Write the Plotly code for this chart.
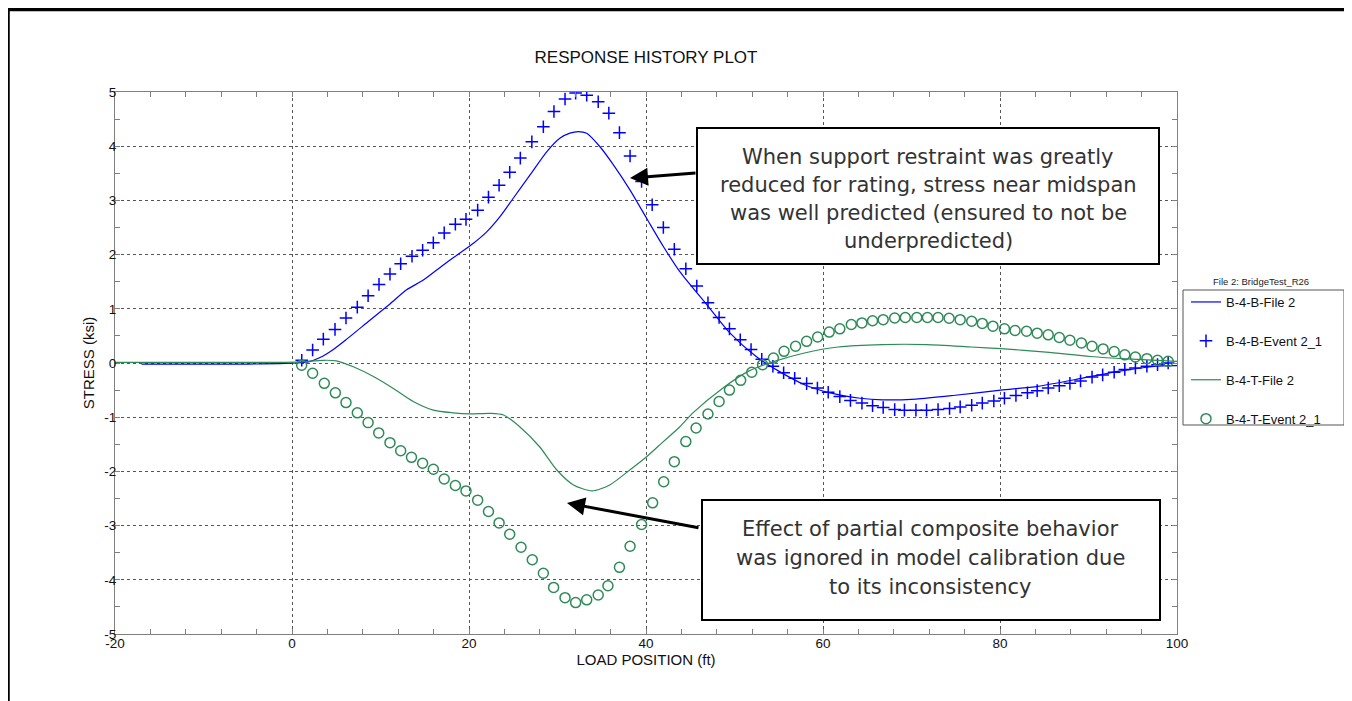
import plotly.graph_objects as go

# ---------------- data ----------------
b_event_x = [1.1, 2.33, 3.54, 4.86, 6.1, 7.38, 8.6, 9.83, 11.07, 12.28,
             13.56, 14.76, 15.97, 17.2, 18.46, 19.66, 20.98, 22.2, 23.4, 24.6,
             25.8, 27.1, 28.4, 29.6, 30.85, 32.05, 33.3, 34.6, 35.8, 37.0,
             38.2, 39.5, 40.7, 41.96, 43.2, 44.5, 45.74, 47.0, 48.26, 49.43,
             50.65, 51.87, 53.08, 54.34, 55.55, 56.8, 58.15, 59.37, 60.59, 61.9,
             63.1, 64.4, 65.6, 66.8, 68.1, 69.2, 70.5, 71.7, 73.0, 74.3,
             75.5, 76.8, 78.0, 79.3, 80.5, 81.8, 83.1, 84.2, 85.45, 86.7,
             87.9, 89.1, 90.4, 91.6, 92.9, 94.1, 95.3, 96.6, 97.8, 99.0]
b_event_y = [0.05, 0.24, 0.44, 0.62, 0.83, 1.03, 1.24, 1.45, 1.64, 1.83,
             1.97, 2.08, 2.22, 2.40, 2.56, 2.65, 2.82, 3.06, 3.28, 3.52,
             3.78, 4.08, 4.36, 4.64, 4.87, 4.98, 4.94, 4.82, 4.61, 4.25,
             3.82, 3.35, 2.92, 2.50, 2.10, 1.74, 1.42, 1.11, 0.84, 0.63,
             0.43, 0.25, 0.07, -0.06, -0.18, -0.28, -0.38, -0.46, -0.54, -0.62,
             -0.69, -0.74, -0.79, -0.82, -0.86, -0.87, -0.87, -0.87, -0.86, -0.84,
             -0.81, -0.78, -0.74, -0.70, -0.65, -0.60, -0.55, -0.51, -0.46, -0.42,
             -0.375, -0.33, -0.26, -0.22, -0.17, -0.12, -0.09, -0.06, -0.03, 0.0]

t_event_x = [1.09, 2.33, 3.65, 4.9, 6.1, 7.38, 8.6, 9.8, 11.07, 12.28,
             13.5, 14.76, 15.97, 17.2, 18.46, 19.66, 20.98, 22.2, 23.4, 24.6,
             25.88, 27.15, 28.4, 29.56, 30.85, 32.05, 33.3, 34.6, 35.7, 37.0,
             38.2, 39.5, 40.75, 42.0, 43.2, 44.5, 45.66, 47.0, 48.26, 49.43,
             50.7, 51.95, 53.17, 54.4, 55.6, 56.9, 58.15, 59.4, 60.7, 61.9,
             63.2, 64.4, 65.6, 66.8, 68.1, 69.3, 70.6, 71.8, 73.0, 74.25,
             75.5, 76.8, 78.0, 79.2, 80.5, 81.7, 83.0, 84.2, 85.45, 86.7,
             87.9, 89.2, 90.4, 91.65, 92.9, 94.1, 95.3, 96.6, 97.8, 99.0]
t_event_y = [-0.04, -0.19, -0.375, -0.55, -0.73, -0.92, -1.10, -1.29, -1.47, -1.62,
             -1.74, -1.85, -1.96, -2.14, -2.26, -2.36, -2.53, -2.74, -2.95, -3.16,
             -3.40, -3.63, -3.88, -4.14, -4.33, -4.42, -4.37, -4.28, -4.11, -3.77,
             -3.38, -2.98, -2.58, -2.19, -1.82, -1.45, -1.20, -0.94, -0.71, -0.50,
             -0.32, -0.17, -0.03, 0.09, 0.215, 0.31, 0.40, 0.48, 0.57, 0.63,
             0.71, 0.74, 0.78, 0.80, 0.83, 0.84, 0.84, 0.84, 0.84, 0.825,
             0.80, 0.77, 0.73, 0.68, 0.63, 0.60, 0.585, 0.55, 0.52, 0.47,
             0.42, 0.37, 0.31, 0.26, 0.21, 0.15, 0.11, 0.08, 0.05, 0.03]

b_file_x = [-17, -5, -1.4, 0.5, 1.85, 3.17, 4.67, 6.18, 8.8, 11.07,
            12.95, 14.84, 17.1, 18.98, 20.5, 22.0, 23.5, 25.0, 26.9, 28.8,
            30.3, 31.4, 32.35, 33.3, 34.8, 36.3, 38.2, 40.07, 41.96, 43.8,
            47.0, 49.5, 52.45, 55.0, 57.9, 60.8, 64.2, 66.7, 70.5, 74.7,
            80.1, 84.3, 89.35, 93.5, 97.7, 100]
b_file_y = [-0.02, -0.02, -0.01, 0.0, 0.02, 0.10, 0.25, 0.44, 0.79, 1.09,
            1.35, 1.53, 1.81, 2.03, 2.21, 2.42, 2.70, 3.04, 3.47, 3.90,
            4.15, 4.24, 4.27, 4.24, 3.99, 3.66, 3.19, 2.67, 2.15, 1.69,
            1.05, 0.55, 0.12, -0.15, -0.40, -0.55, -0.65, -0.68, -0.665, -0.60,
            -0.50, -0.43, -0.28, -0.15, -0.06, -0.05]

t_file_x = [-20, -1.4, 0.9, 3.54, 5.0, 6.93, 9.2, 11.45, 13.7, 15.97,
            18.2, 20.1, 22.4, 23.9, 25.76, 28.0, 29.9, 31.8, 33.9, 35.9,
            38.2, 40.07, 41.96, 43.8, 45.3, 48.7, 51.6, 54.5, 57.9, 61.7,
            66.7, 71.7, 76.8, 80.1, 85.2, 90.2, 94.4, 100]
t_file_y = [0.01, 0.01, 0.02, 0.05, 0.04, -0.07, -0.25, -0.47, -0.71, -0.87,
            -0.92, -0.94, -0.93, -0.96, -1.18, -1.55, -1.97, -2.25, -2.36, -2.25,
            -1.97, -1.73, -1.45, -1.18, -0.92, -0.46, -0.15, 0.03, 0.185, 0.295,
            0.34, 0.34, 0.295, 0.265, 0.20, 0.12, 0.075, 0.03]

x_ticks = [-20, 0, 20, 40, 60, 80, 100]
x_tick_labels = ["-20", "0", "20", "40", "60", "80", "100"]
y_ticks = [-5, -4, -3, -2, -1, 0, 1, 2, 3, 4, 5]
y_tick_labels = ["-5", "-4", "-3", "-2", "-1", "0", "1", "2", "3", "4", "5"]

note_top = ["When support restraint was greatly",
            "reduced for rating, stress near midspan",
            "was well predicted (ensured to not be",
            "underpredicted)"]
note_bottom = ["Effect of partial composite behavior",
               "was ignored in model calibration due",
               "to its inconsistency"]

BLUE = "#0000FF"
GREEN = "#2E8B57"
FONT = "Arial, Liberation Sans, sans-serif"

fig = go.Figure()
fig.add_trace(go.Scatter(x=b_file_x, y=b_file_y, mode="lines", name="B-4-B-File 2",
                         line=dict(color=BLUE, width=1.2, shape="spline", smoothing=0.7),
                         legendgroup="a"))
fig.add_trace(go.Scatter(x=b_event_x, y=b_event_y, mode="markers", name="B-4-B-Event 2_1",
                         marker=dict(symbol="cross-thin", size=9, color=BLUE,
                                     line=dict(color=BLUE, width=1.5)),
                         legendgroup="b"))
fig.add_trace(go.Scatter(x=t_file_x, y=t_file_y, mode="lines", name="B-4-T-File 2",
                         line=dict(color=GREEN, width=1.2, shape="spline", smoothing=0.7),
                         legendgroup="c"))
fig.add_trace(go.Scatter(x=t_event_x, y=t_event_y, mode="markers", name="B-4-T-Event 2_1",
                         marker=dict(symbol="circle-open", size=10, color=GREEN,
                                     line=dict(color=GREEN, width=1.5)),
                         legendgroup="d"))

axis_common = dict(
    showline=True, linecolor="#808080", linewidth=1, mirror="allticks",
    ticks="inside", ticklen=5, tickcolor="#808080",
    showgrid=True, gridcolor="#555555", griddash="dot", gridwidth=1,
    zeroline=False,
    tickfont=dict(family=FONT, size=13.5, color="#111"),
)

fig.update_xaxes(range=[-20, 100], tickvals=x_ticks, ticktext=x_tick_labels, ticklabelstandoff=-3,
                 minor=dict(dtick=4, ticks="inside", ticklen=5, tickcolor="#808080", showgrid=False),
                 title=dict(text="LOAD POSITION (ft)", font=dict(family=FONT, size=15, color="#111"),
                            standoff=2),
                 **axis_common)
fig.update_yaxes(range=[-5, 5], tickvals=y_ticks, ticktext=y_tick_labels, ticklabelstandoff=-5,
                 minor=dict(dtick=0.5, ticks="inside", ticklen=5, tickcolor="#808080", showgrid=False),
                 title=dict(text="STRESS (ksi)", font=dict(family=FONT, size=15, color="#111"),
                            standoff=6),
                 **axis_common)

# The page body has an 8px margin: figure origin is at page (8, 8).
# Helpers convert page pixels to paper coords (plot area on page: x 115..1177, y 92..634).
def px(xp):
    return (xp - 115) / 1062.0

def py(yp):
    return (634 - yp) / 542.0

shapes = [
    # outer slide frame
    dict(type="path", xref="paper", yref="paper",
         path=f"M {px(8)},{py(720)} L {px(8)},{py(9.5)} L {px(1348)},{py(9.5)} L {px(1348)},{py(720)}",
         line=dict(color="black", width=3.5)),
    # callout boxes
    dict(type="rect", xref="paper", yref="paper", x0=px(697), x1=px(1159), y0=py(264), y1=py(128),
         fillcolor="white", line=dict(color="black", width=2), layer="above"),
    dict(type="rect", xref="paper", yref="paper", x0=px(702), x1=px(1160), y0=py(620), y1=py(500),
         fillcolor="white", line=dict(color="black", width=2), layer="above"),
    # legend box
    dict(type="rect", xref="paper", yref="paper", x0=px(1183), x1=px(1344), y0=py(425), y1=py(290),
         line=dict(color="#555555", width=1), layer="below"),
]

TXT = dict(family="DejaVu Sans, sans-serif", size=21, color="#333333")
annotations = []
for i, line in enumerate(note_top):
    annotations.append(dict(xref="paper", yref="paper", x=px(928), y=py(157 + 28 * i),
                            showarrow=False, text=line, font=TXT,
                            xanchor="center", yanchor="middle"))
for i, line in enumerate(note_bottom):
    annotations.append(dict(xref="paper", yref="paper", x=px(930), y=py(529 + 29 * i),
                            showarrow=False, text=line, font=TXT,
                            xanchor="center", yanchor="middle"))
annotations += [
    dict(xref="paper", yref="paper", x=px(630), y=py(178), text="", showarrow=True,
         ax=67, ay=-5, arrowhead=2, arrowsize=1.2, arrowwidth=3, arrowcolor="black"),
    dict(xref="paper", yref="paper", x=px(567), y=py(503), text="", showarrow=True,
         ax=133, ay=25, arrowhead=2, arrowsize=1.2, arrowwidth=3, arrowcolor="black"),
    dict(xref="paper", yref="paper", x=px(1261), y=py(281), showarrow=False,
         text="File 2: BridgeTest_R26", font=dict(family=FONT, size=9.5, color="#222"),
         xanchor="center", yanchor="middle"),
]

fig.update_layout(
    width=1344, height=693,
    margin=dict(l=107, r=175, t=84, b=67),
    paper_bgcolor="white", plot_bgcolor="white",
    title=dict(text="RESPONSE HISTORY PLOT", x=px(646), xref="paper", y=1 - (57 - 8) / 693,
               yanchor="middle", xanchor="center",
               font=dict(family=FONT, size=17, color="#111")),
    showlegend=True,
    legend=dict(x=px(1186), y=py(287), xanchor="left", yanchor="top",
                bgcolor="rgba(0,0,0,0)", borderwidth=0,
                font=dict(family=FONT, size=13, color="#111"),
                tracegroupgap=19, itemwidth=30),
    shapes=shapes,
    annotations=annotations,
)

fig.write_html("out.html")
